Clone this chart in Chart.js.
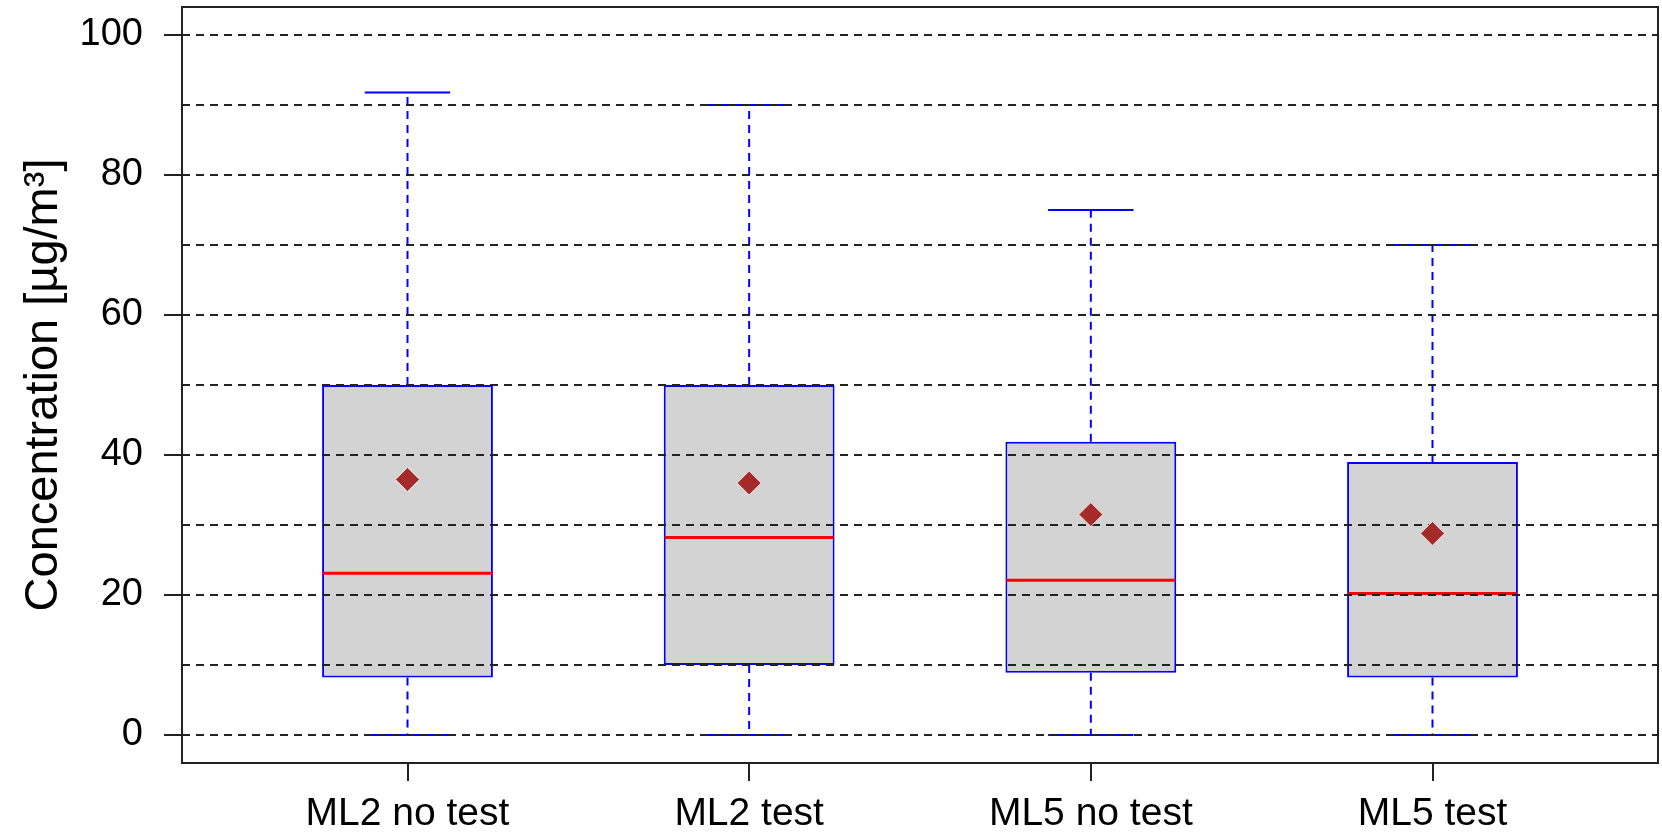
<!DOCTYPE html>
<html>
<head>
<meta charset="utf-8">
<script src="https://cdn.jsdelivr.net/npm/chart.js@4.4.1/dist/chart.umd.min.js"></script>
<style>
  html, body { margin: 0; padding: 0; background: #fff; overflow: hidden; }
  canvas { display: block; }
</style>
</head>
<body>
<canvas id="boxChart" width="1662" height="835"></canvas>
<script>
const groups = ["ML2 no test", "ML2 test", "ML5 no test", "ML5 test"];
const whiskerLow = [0, 0, 0, 0];
const q1 = [8.2, 10, 8.9, 8.2];
const medians = [23.1, 28.2, 22.1, 20.2];
const q3 = [50, 50, 41.9, 39];
const whiskerHigh = [91.8, 90, 75, 70];
const means = [36.5, 36.0, 31.5, 28.8];
const yTicks = [0, 20, 40, 60, 80, 100];
const gridValues = [0, 10, 20, 30, 40, 50, 60, 70, 80, 90, 100];

const FONT = "'Liberation Sans', Arial, sans-serif";

// whiskers, caps, medians, then the dashed grid on top (like R's abline after boxplot)
const boxExtras = {
  id: "boxExtras",
  afterDatasetDraw(chart, args) {
    if (args.index !== 0) return;
    const { ctx, chartArea } = chart;
    const xs = chart.scales.x;
    const ys = chart.scales.y;
    const bars = chart.getDatasetMeta(0).data;
    const capHalf = (xs.getPixelForValue(1.125) - xs.getPixelForValue(1));

    ctx.save();
    groups.forEach((g, i) => {
      const x = xs.getPixelForValue(i + 1);
      // dashed whiskers
      ctx.strokeStyle = "#0000FF";
      ctx.lineWidth = 2;
      ctx.setLineDash([8, 6]);
      ctx.beginPath();
      ctx.moveTo(x, ys.getPixelForValue(q3[i]));
      ctx.lineTo(x, ys.getPixelForValue(whiskerHigh[i]));
      ctx.moveTo(x, ys.getPixelForValue(q1[i]));
      ctx.lineTo(x, ys.getPixelForValue(whiskerLow[i]));
      ctx.stroke();
      // caps
      ctx.setLineDash([]);
      ctx.beginPath();
      [whiskerHigh[i], whiskerLow[i]].forEach((v) => {
        const y = ys.getPixelForValue(v);
        ctx.moveTo(x - capHalf, y);
        ctx.lineTo(x + capHalf, y);
      });
      ctx.stroke();
      // median
      const bar = bars[i];
      ctx.strokeStyle = "#FF0000";
      ctx.lineWidth = 3;
      ctx.beginPath();
      const ym = ys.getPixelForValue(medians[i]);
      ctx.moveTo(bar.x - bar.width / 2 + 1, ym);
      ctx.lineTo(bar.x + bar.width / 2 - 1, ym);
      ctx.stroke();
    });

    // grid
    ctx.strokeStyle = "#222";
    ctx.lineWidth = 2;
    ctx.setLineDash([8, 6]);
    ctx.beginPath();
    gridValues.forEach((v) => {
      const y = Math.round(ys.getPixelForValue(v));
      ctx.moveTo(chartArea.left, y);
      ctx.lineTo(chartArea.right, y);
    });
    ctx.stroke();
    ctx.restore();
  },
  afterDraw(chart) {
    const { ctx, chartArea } = chart;
    ctx.save();
    ctx.strokeStyle = "#222";
    ctx.lineWidth = 2;
    ctx.strokeRect(chartArea.left, chartArea.top,
      chartArea.right - chartArea.left, chartArea.bottom - chartArea.top);
    ctx.restore();
  },
};

function noPadding(scale) {
  scale.paddingTop = 0;
  scale.paddingBottom = 0;
  scale.paddingLeft = 0;
  scale.paddingRight = 0;
}

new Chart(document.getElementById("boxChart"), {
  type: "bar",
  data: {
    datasets: [
      {
        type: "bar",
        label: "Interquartile range",
        data: groups.map((g, i) => ({ x: i + 1, y: [q1[i], q3[i]] })),
        backgroundColor: "#D3D3D3",
        borderColor: "#0000FF",
        borderWidth: 2,
        borderSkipped: false,
        barPercentage: 0.5,
        categoryPercentage: 1,
        order: 2,
      },
      {
        type: "scatter",
        label: "Mean",
        data: groups.map((g, i) => ({ x: i + 1, y: means[i] })),
        pointStyle: "rectRot",
        pointRadius: 12,
        backgroundColor: "#A52A2A",
        borderColor: "#F0E0E0",
        borderWidth: 1,
        order: 1,
      },
    ],
  },
  plugins: [boxExtras],
  options: {
    responsive: false,
    animation: false,
    layout: {
      autoPadding: false,
      padding: { top: 7, right: 4, left: 0, bottom: 0 },
    },
    plugins: {
      legend: { display: false },
      tooltip: { enabled: false },
    },
    scales: {
      x: {
        type: "linear",
        offset: false,
        min: 0.34,
        max: 4.66,
        afterBuildTicks: (scale) => {
          scale.ticks = groups.map((g, i) => ({ value: i + 1 }));
        },
        afterFit: (scale) => {
          scale.height = 72;
          noPadding(scale);
        },
        border: { display: false },
        grid: {
          offset: false,
          drawOnChartArea: false,
          drawTicks: true,
          tickLength: 18,
          color: "#222",
          lineWidth: 2,
        },
        ticks: {
          autoSkip: false,
          maxRotation: 0,
          padding: 10,
          color: "#000",
          font: { family: FONT, size: 39 },
          callback: (v) => groups[v - 1],
        },
      },
      y: {
        min: -4,
        max: 104,
        afterBuildTicks: (scale) => {
          scale.ticks = yTicks.map((v) => ({ value: v }));
        },
        afterFit: (scale) => {
          scale.width = 182;
          noPadding(scale);
        },
        border: { display: false },
        grid: {
          drawOnChartArea: false,
          drawTicks: true,
          tickLength: 18,
          color: "#222",
          lineWidth: 2,
        },
        ticks: {
          padding: 21,
          color: "#000",
          font: { family: FONT, size: 38 },
        },
        title: {
          display: true,
          text: "Concentration [µg/m³]",
          color: "#000",
          font: { family: FONT, size: 47 },
          padding: { top: 16, bottom: 0 },
        },
      },
    },
  },
});
</script>
</body>
</html>
